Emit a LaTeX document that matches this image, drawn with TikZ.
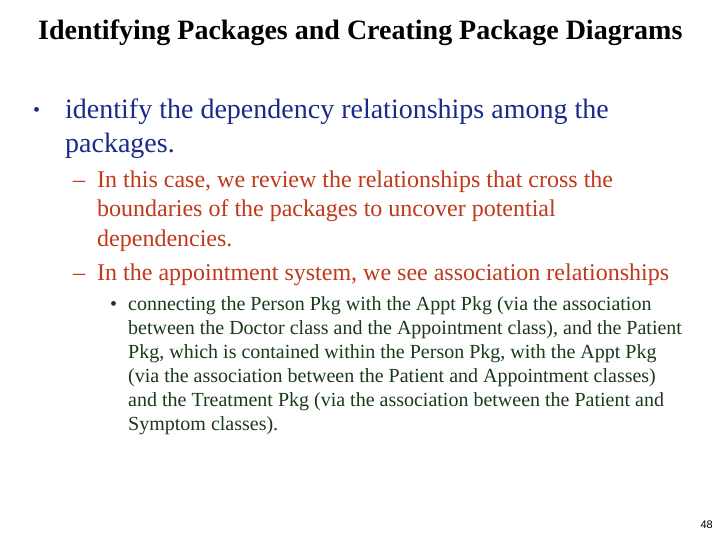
\documentclass[tikz,border=0pt]{standalone}
\usepackage{fontspec}
\setmainfont{Liberation Serif}
\newfontfamily\numfont{Liberation Sans}
\definecolor{blu}{HTML}{1A2A8A}
\definecolor{rd}{HTML}{C0391B}
\definecolor{grn}{HTML}{1A3A1A}
\begin{document}
\begin{tikzpicture}[x=1pt,y=-1pt,
 tl/.style={anchor=base west,inner sep=0pt,font=\fontsize{28}{28}\selectfont\bfseries},
 l1/.style={anchor=base west,inner sep=0pt,text=blu,font=\fontsize{28}{28}\selectfont},
 l2/.style={anchor=base west,inner sep=0pt,text=rd,font=\fontsize{24}{24}\selectfont},
 l3/.style={anchor=base west,inner sep=0pt,text=grn,font=\fontsize{20}{20}\selectfont}]
\fill[white] (0,0) rectangle (720,540);
\node[tl] (t) at (38,40) {Identifying Packages and Creating Package Diagrams};
\node[l1,font=\fontsize{20}{20}\selectfont] (b1) at (33,117) {\textbullet};
\node[l1] (a1) at (65,119) {identify the dependency relationships among the};
\node[l1] (a2) at (65,153) {packages.};
\node[l2] (d1) at (73,188) {--};
\node[l2] (c1) at (97,188) {In this case, we review the relationships that cross the};
\node[l2] (c2) at (97,217) {boundaries of the packages to uncover potential};
\node[l2] (c3) at (97,246) {dependencies.};
\node[l2] (d2) at (73,280) {--};
\node[l2] (c4) at (97,280) {In the appointment system, we see association relationships};
\node[l3] (b3) at (110,310) {\textbullet};
\node[l3] (e1) at (128,310) {connecting the Person Pkg with the Appt Pkg (via the association};
\node[l3] (e2) at (128,334) {between the Doctor class and the Appointment class), and the Patient};
\node[l3] (e3) at (128,358) {Pkg, which is contained within the Person Pkg, with the Appt Pkg};
\node[l3] (e4) at (128,382) {(via the association between the Patient and Appointment classes)};
\node[l3] (e5) at (128,406) {and the Treatment Pkg (via the association between the Patient and};
\node[l3] (e6) at (128,430) {Symptom classes).};
\node[anchor=base east,inner sep=0pt,font=\numfont\fontsize{11}{11}\selectfont] (n) at (713,528) {48};
\end{tikzpicture}
\end{document}
